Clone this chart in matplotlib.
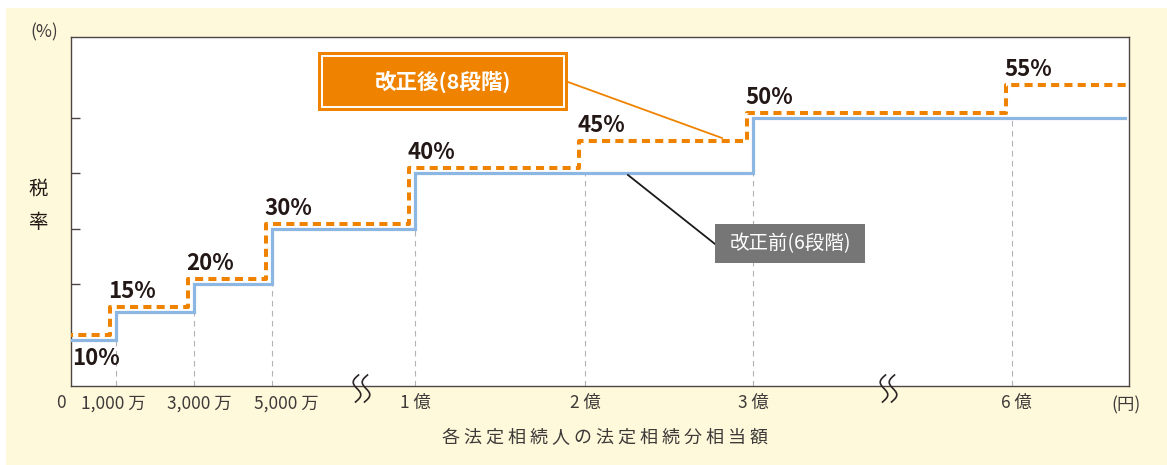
import numpy as np
import matplotlib
matplotlib.use('Agg')
import matplotlib.pyplot as plt
from matplotlib.scale import FuncScale
from matplotlib import transforms as mtrans
from matplotlib.patches import Rectangle
from matplotlib.lines import Line2D

plt.rcParams['font.family'] = ['Noto Sans CJK JP', 'DejaVu Sans']

# ---------------- data (amounts in 万円, rates in %) ----------------
after_edges = [0, 1000, 3000, 5000, 10000, 20000, 30000, 60000]
after_rates = [10, 15, 20, 30, 40, 45, 50, 55]
before_edges = [0, 1000, 3000, 5000, 10000, 30000]
before_rates = [10, 15, 20, 30, 40, 50]
x_end = 70000
tick_values = [0, 1000, 3000, 5000, 10000, 20000, 30000, 60000]
tick_labels = ['0', '1,000 万', '3,000 万', '5,000 万', '1 億', '2 億', '3 億', '6 億']
label_after = '改正後(8段階)'
label_before = '改正前(6段階)'
xlabel = '各法定相続人の法定相続分相当額'
ylabel = '税率'
unit_x = '(円)'
unit_y = '(%)'

# ---------------- style ----------------
ORANGE = '#ef8300'
BLUE = '#8cb7e2'
DARK = '#231815'
GRAY_TXT = '#3e3a39'
BG = '#fef9db'
W, H = 1167, 465

fig = plt.figure(figsize=(W / 100, H / 100), dpi=100, facecolor='white')
# pixel transform (origin top-left)
PX = mtrans.Affine2D().scale(1, -1).translate(0, H)

fig.patches.append(Rectangle((6, 8), W, H, transform=PX, facecolor=BG,
                             edgecolor='none', zorder=-10))

ax = fig.add_axes([71 / W, 1 - 386 / H, (1129 - 71) / W, (386 - 37) / H])
ax.set_facecolor('white')

# broken (piecewise) x scale
scale_vals = [0, 1000, 3000, 5000, 10000, 20000, 30000, 60000, 70000, 1000000]
scale_pos = [0, 45, 123, 201, 344, 514, 682, 941, 1058, 1058 + 93 * 117]


def fwd(v):
    return np.interp(v, scale_vals, scale_pos)


def inv(p):
    return np.interp(p, scale_pos, scale_vals)


ax.set_xscale(FuncScale(ax, (fwd, inv)))
ax.set_xlim(0, x_end)
ax.set_ylim(1.7, 64.6)

# gray dashed guide lines
for v in tick_values[1:]:
    idx = np.searchsorted(before_edges, v, side='left') - 1
    ax.vlines(v, 1.7, before_rates[idx], colors='#b3b3b3', lw=0.8,
              linestyles=(0, (5, 4)), zorder=1)

# before (blue, solid)
ax.step(before_edges + [69700], before_rates + [before_rates[-1]], where='post',
        color=BLUE, lw=2.3, zorder=3, solid_joinstyle='miter')

# after (orange, dashed), slightly offset up-left for readability
off = ax.transData + mtrans.ScaledTranslation(-6 / 100, 5 / 100, fig.dpi_scale_trans)
ax.step(after_edges + [x_end * 1.1], after_rates + [after_rates[-1]], where='post',
        color=ORANGE, lw=2.9, linestyle=(0, (2.0, 1.3)), dash_capstyle='butt',
        transform=off, zorder=4)

# percentage labels
for e, r in zip(after_edges, after_rates):
    if e == 0:
        ax.annotate(f'{r}%', xy=(e, r), xytext=(1, -7), textcoords='offset pixels',
                    ha='left', va='top', fontsize=16, fontweight='bold', color=DARK)
    else:
        ax.annotate(f'{r}%', xy=(e, r), xytext=(-8, 14), textcoords='offset pixels',
                    ha='left', va='baseline', fontsize=16, fontweight='bold', color=DARK)

# axes styling
for s in ax.spines.values():
    s.set_color('#4d4443')
    s.set_linewidth(1.0)
ax.set_yticks([10, 20, 30, 40, 50])
ax.tick_params(axis='y', direction='in', length=6.5, width=1.0, color='#4d4443',
               labelleft=False)
ax.set_xticks(tick_values)
ax.set_xticklabels(tick_labels)
ax.tick_params(axis='x', length=0, pad=6, labelsize=12.5, labelcolor=GRAY_TXT)
label_shift = {'0': -10, '1,000 万': -3, '3,000 万': 5, '5,000 万': 14, '6 億': 4}
for lab in ax.get_xticklabels():
    dx = label_shift.get(lab.get_text(), 0)
    if dx:
        lab.set_transform(lab.get_transform() +
                          mtrans.ScaledTranslation(dx / 100, 0, fig.dpi_scale_trans))

# axis break marks
t = np.linspace(0, 1, 80)
for cx in (357, 366, 884, 893):
    xs = cx - 4.5 * np.sin(2 * np.pi * t) + 3 * (0.5 - t)
    ys = 375 + 27 * t
    fig.lines.append(Line2D(xs, ys, transform=PX, color='#2b2424', lw=1.2, zorder=20))

# axis texts
fig.text(1126, 405, unit_x, transform=PX, ha='center', va='center', fontsize=12.5, color=GRAY_TXT)
fig.text(44, 32, unit_y, transform=PX, ha='center', va='center', fontsize=12.5, color=GRAY_TXT)
fig.text(38, 189, ylabel[0], transform=PX, ha='center', va='center', fontsize=14, color=DARK)
fig.text(38, 222, ylabel[1], transform=PX, ha='center', va='center', fontsize=14, color=DARK)
fig.text(605, 438, ' '.join(xlabel), transform=PX, ha='center', va='center',
         fontsize=13, color=GRAY_TXT)

# legend-like callouts
fig.patches.append(Rectangle((318, 52), 250, 59, transform=PX, facecolor=ORANGE,
                             edgecolor='none', zorder=15))
fig.patches.append(Rectangle((322, 56), 242, 51, transform=PX, facecolor='none',
                             edgecolor='white', lw=1.4, zorder=16))
fig.text(443, 82, label_after, transform=PX, ha='center', va='center', fontsize=15.5,
         fontweight='bold', color='white', zorder=17)
fig.lines.append(Line2D([568, 722], [82, 138], transform=PX, color=ORANGE, lw=1.3, zorder=14))

fig.patches.append(Rectangle((715, 224), 150, 39, transform=PX, facecolor='#767676',
                             edgecolor='none', zorder=15))
fig.text(790, 244, label_before, transform=PX, ha='center', va='center', fontsize=14,
         color='white', zorder=17)
fig.lines.append(Line2D([628, 715], [175, 244], transform=PX, color='#1a1a1a', lw=1.3, zorder=14))

fig.savefig('out.png', dpi=100, facecolor='white')
